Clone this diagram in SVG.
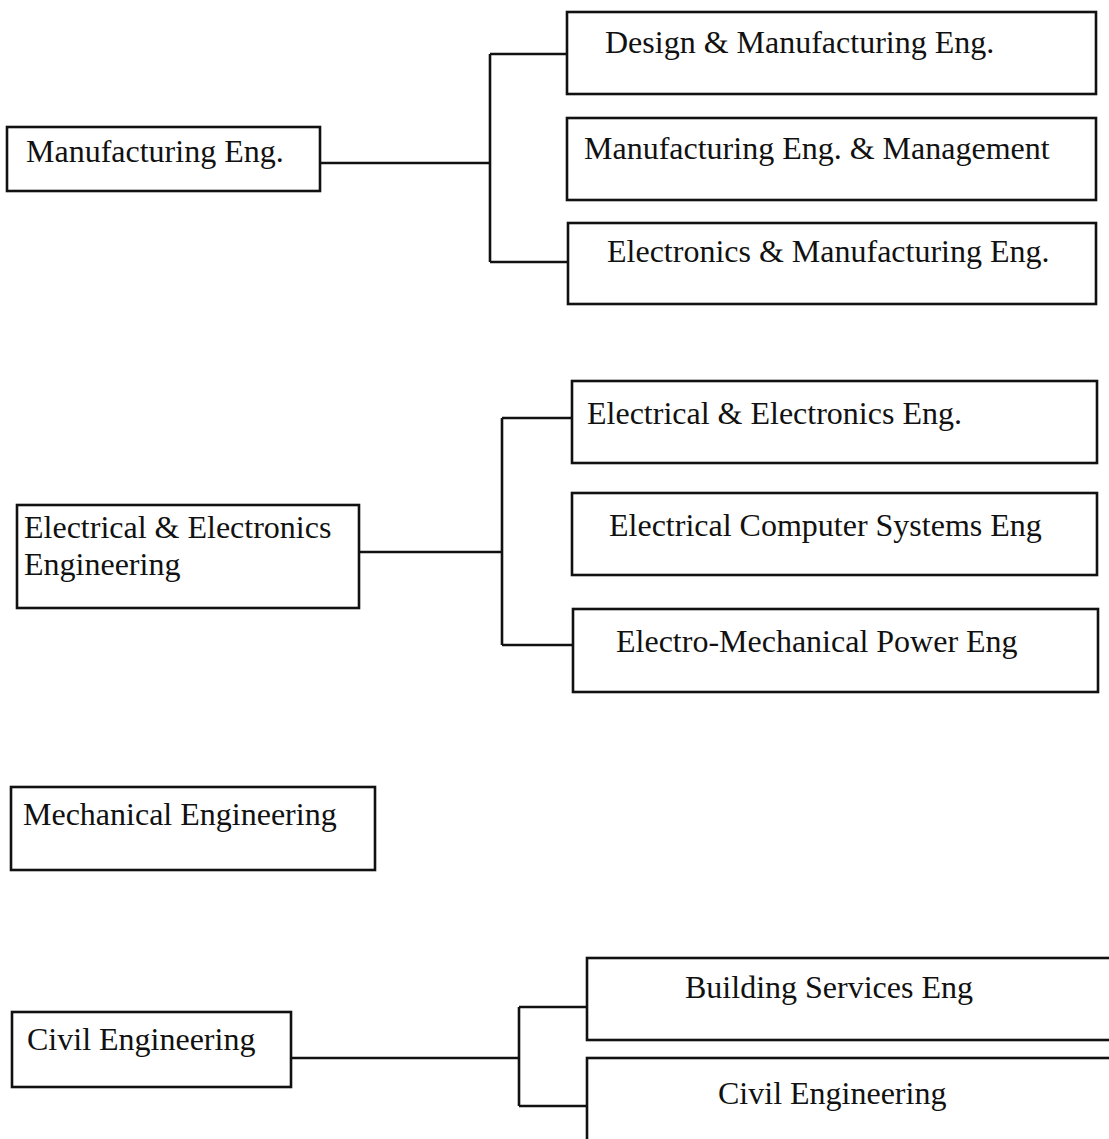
<svg xmlns="http://www.w3.org/2000/svg" width="1109" height="1139" viewBox="0 0 1109 1139">
  <style>
    .box { fill: #ffffff; stroke: #111111; stroke-width: 2.6; }
    .lbl { font-family: "Liberation Serif", "Times New Roman", serif; font-size: 32px; fill: #111111; }
    .wire { fill: none; stroke: #111111; stroke-width: 2.6; }
  </style>
  <rect width="1109" height="1139" fill="#ffffff"/>

  <!-- connectors: parent box -> vertical bus -> child boxes -->
  <g id="connectors">
    <path class="wire" d="M320,163 H490 M490,54 V262 M490,54 H567 M490,262 H567"/>
    <path class="wire" d="M359,552 H502 M502,418 V645 M502,418 H572 M502,645 H572"/>
    <path class="wire" d="M291,1058 H519 M519,1007 V1106 M519,1007 H587 M519,1106 H587"/>
  </g>

  <!-- Manufacturing group -->
  <g id="manufacturing-eng">
    <rect class="box" x="7" y="127" width="313" height="64"/>
    <text class="lbl" x="26" y="162">Manufacturing Eng.</text>
  </g>
  <g id="design-manufacturing-eng">
    <rect class="box" x="567" y="12" width="529" height="82"/>
    <text class="lbl" x="605" y="53">Design &amp; Manufacturing Eng.</text>
  </g>
  <g id="manufacturing-eng-management">
    <rect class="box" x="567" y="118" width="529" height="82"/>
    <text class="lbl" x="584" y="159">Manufacturing Eng. &amp; Management</text>
  </g>
  <g id="electronics-manufacturing-eng">
    <rect class="box" x="568" y="223" width="528" height="81"/>
    <text class="lbl" x="607" y="262">Electronics &amp; Manufacturing Eng.</text>
  </g>

  <!-- Electrical group -->
  <g id="electrical-electronics-engineering">
    <rect class="box" x="17" y="505" width="342" height="103"/>
    <text class="lbl" x="24" y="538">Electrical &amp; Electronics</text>
    <text class="lbl" x="24" y="575">Engineering</text>
  </g>
  <g id="electrical-electronics-eng">
    <rect class="box" x="572" y="381" width="525" height="82"/>
    <text class="lbl" x="587" y="424">Electrical &amp; Electronics Eng.</text>
  </g>
  <g id="electrical-computer-systems-eng">
    <rect class="box" x="572" y="493" width="525" height="82"/>
    <text class="lbl" x="609" y="536">Electrical Computer Systems Eng</text>
  </g>
  <g id="electro-mechanical-power-eng">
    <rect class="box" x="573" y="609" width="525" height="83"/>
    <text class="lbl" x="616" y="652">Electro-Mechanical Power Eng</text>
  </g>

  <!-- Mechanical (no children) -->
  <g id="mechanical-engineering">
    <rect class="box" x="11" y="787" width="364" height="83"/>
    <text class="lbl" x="23" y="825">Mechanical Engineering</text>
  </g>

  <!-- Civil group -->
  <g id="civil-engineering-parent">
    <rect class="box" x="12" y="1012" width="279" height="75"/>
    <text class="lbl" x="27" y="1050">Civil Engineering</text>
  </g>
  <g id="building-services-eng">
    <rect class="box" x="587" y="958" width="540" height="82"/>
    <text class="lbl" x="685" y="998">Building Services Eng</text>
  </g>
  <g id="civil-engineering-child">
    <rect class="box" x="587" y="1058" width="540" height="110"/>
    <text class="lbl" x="718" y="1104">Civil Engineering</text>
  </g>
</svg>
